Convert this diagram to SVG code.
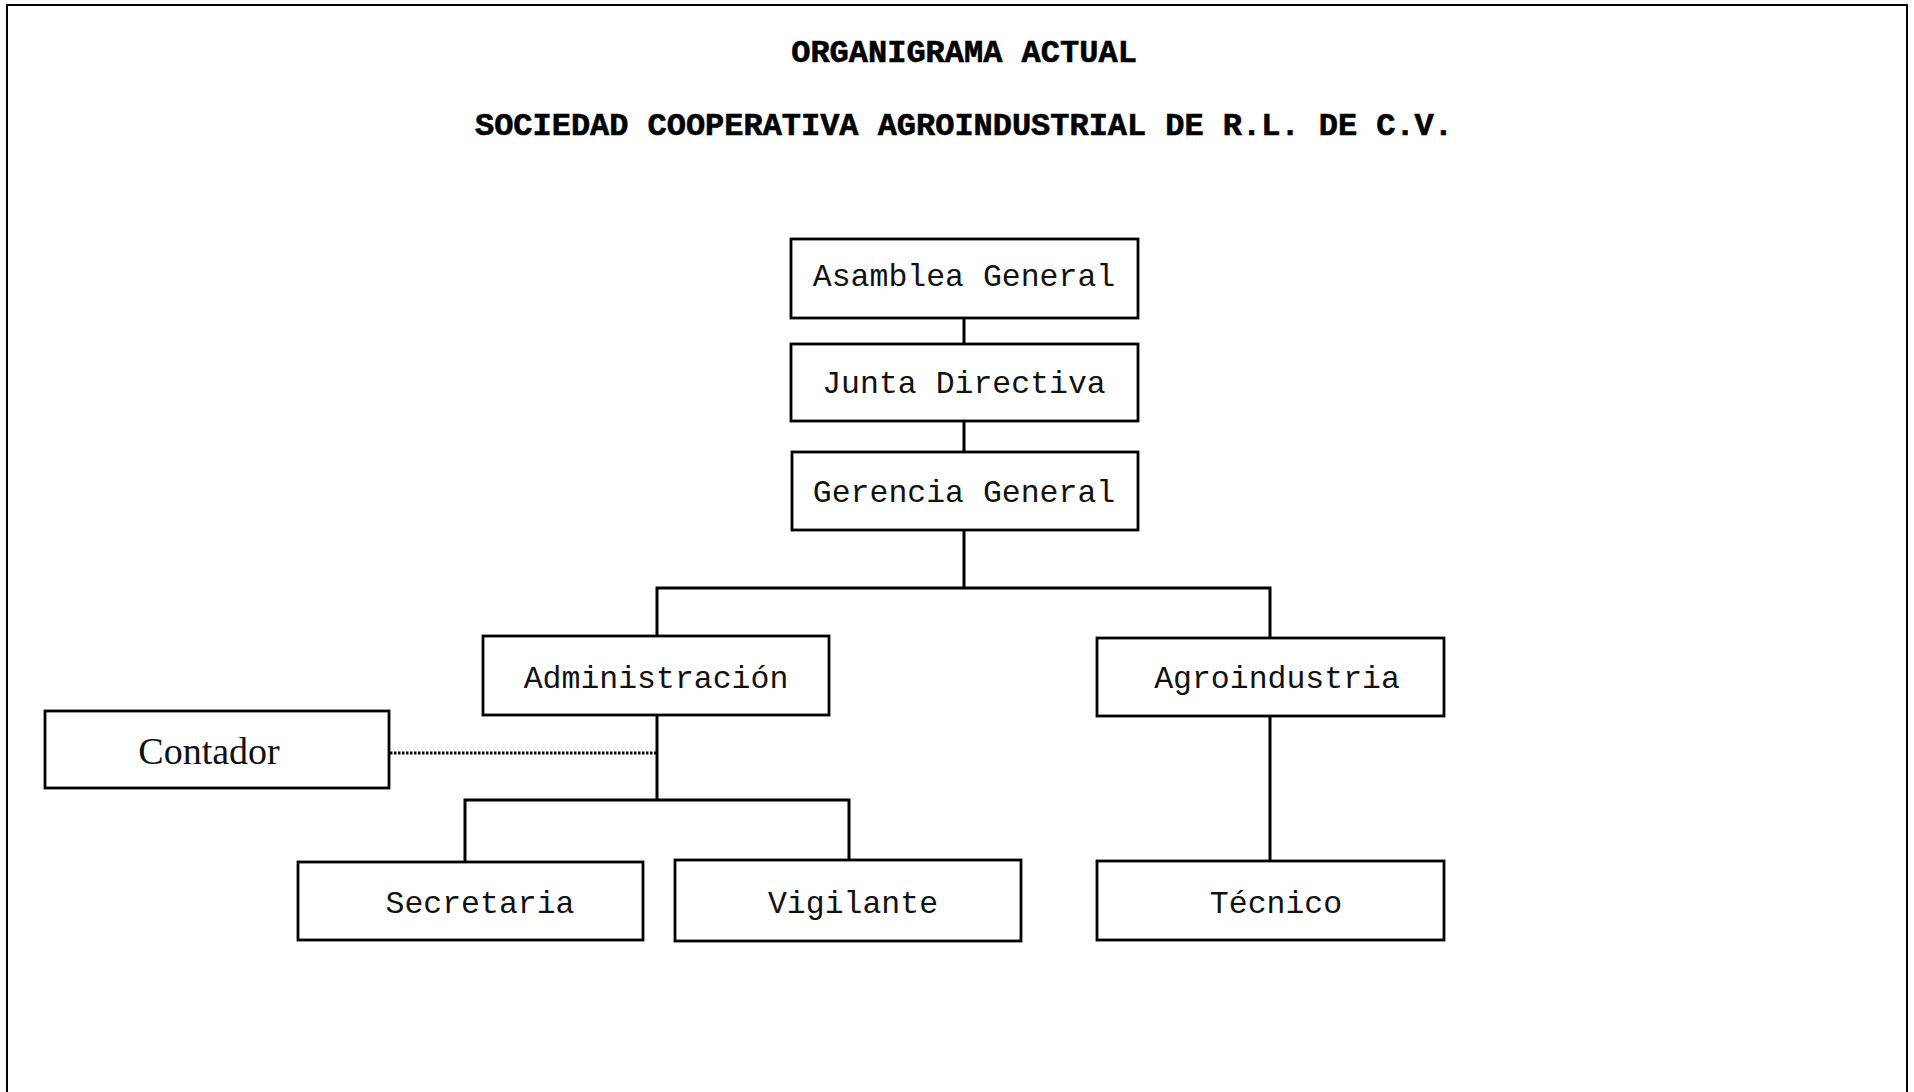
<svg xmlns="http://www.w3.org/2000/svg" width="1914" height="1092" viewBox="0 0 1914 1092">
<style>
.box{fill:#fff;stroke:#000;stroke-width:2.8}
.lbl{font-family:"Liberation Mono","Courier New",monospace;font-size:31.5px;fill:#111;text-anchor:middle}
.title{font-family:"Liberation Mono","Courier New",monospace;font-size:32px;font-weight:bold;fill:#000;stroke:#000;stroke-width:0.6;text-anchor:middle}
.serif{font-family:"Liberation Serif","Times New Roman",serif;font-size:38px;fill:#111;text-anchor:middle}
.con{fill:none;stroke:#000;stroke-width:3}
.dot{fill:none;stroke:#000;stroke-width:2.8;stroke-dasharray:2.5 1.5}
</style>
<rect width="1914" height="1092" fill="#fff"/>
<path d="M7 1092 V5 H1907 V1092" fill="none" stroke="#000" stroke-width="2"/>
<g id="titles">
<text class="title" x="964" y="62">ORGANIGRAMA ACTUAL</text>
<text class="title" x="964" y="135" textLength="978" lengthAdjust="spacing">SOCIEDAD COOPERATIVA AGROINDUSTRIAL DE R.L. DE C.V.</text>
</g>
<g id="connectors">
<line class="con" x1="964" y1="318" x2="964" y2="344"/>
<line class="con" x1="964" y1="421" x2="964" y2="452"/>
<path class="con" d="M964 530 V588 M657 636 V588 H1270 V638"/>
<path class="con" d="M657 715 V800 M465 862 V800 H849 V860"/>
<line class="con" x1="1270" y1="716" x2="1270" y2="861"/>
<line class="dot" x1="390" y1="753" x2="656" y2="753"/>
</g>
<g id="asamblea"><rect class="box" x="791" y="239" width="347" height="79"/><text class="lbl" x="964" y="286">Asamblea General</text></g>
<g id="junta"><rect class="box" x="791" y="344" width="347" height="77"/><text class="lbl" x="964" y="393">Junta Directiva</text></g>
<g id="gerencia"><rect class="box" x="792" y="452" width="346" height="78"/><text class="lbl" x="964" y="502">Gerencia General</text></g>
<g id="administracion"><rect class="box" x="483" y="636" width="346" height="79"/><text class="lbl" x="656" y="688">Administración</text></g>
<g id="agroindustria"><rect class="box" x="1097" y="638" width="347" height="78"/><text class="lbl" x="1277" y="688">Agroindustria</text></g>
<g id="contador"><rect class="box" x="45" y="711" width="344" height="77"/><text class="serif" x="209" y="764">Contador</text></g>
<g id="secretaria"><rect class="box" x="298" y="862" width="345" height="78"/><text class="lbl" x="480" y="913">Secretaria</text></g>
<g id="vigilante"><rect class="box" x="675" y="860" width="346" height="81"/><text class="lbl" x="853" y="913">Vigilante</text></g>
<g id="tecnico"><rect class="box" x="1097" y="861" width="347" height="79"/><text class="lbl" x="1276" y="913">Técnico</text></g>
</svg>
